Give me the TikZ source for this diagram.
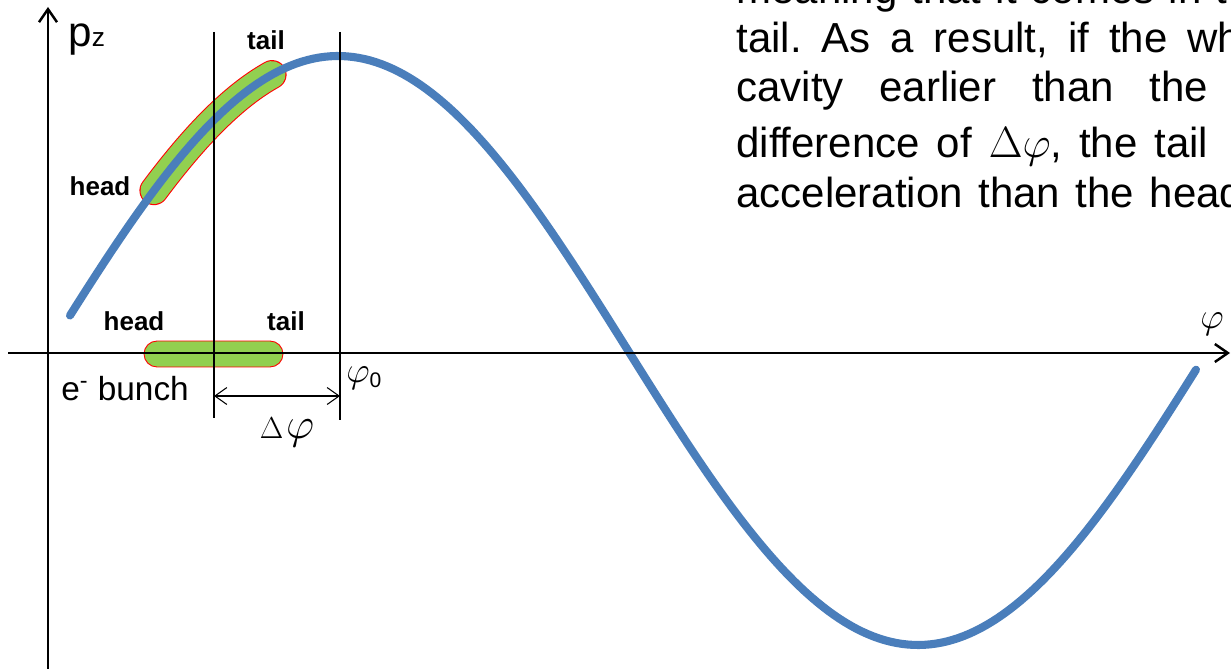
\documentclass[tikz,border=0pt]{standalone}
\usepackage{fontspec}
\setmainfont{Liberation Sans}
\usepackage{tikz}
\usetikzlibrary{positioning,arrows.meta}
\frenchspacing
\definecolor{cwave}{HTML}{4A7EBB}
\definecolor{cbunch}{HTML}{92D050}
\definecolor{cedge}{HTML}{FF0000}
\tikzset{
  axis/.style={line width=1.4pt, -{Straight Barb[length=0.26cm, width=0.36cm]}},
  marker/.style={line width=0.6pt},
  span/.style={line width=0.6pt,
               {Straight Barb[length=0.24cm, width=0.34cm]}-{Straight Barb[length=0.24cm, width=0.34cm]}},
  wave/.style={line width=4.6pt, draw=cwave, line cap=round},
  lbl/.style={font=\fontsize{14.8pt}{16pt}\selectfont\bfseries, inner sep=0pt, anchor=base},
  body/.style={font=\fontsize{23.9pt}{28pt}\selectfont, inner sep=0pt, anchor=base west},
  bunch/.style={rectangle, rounded corners=0.26cm, draw=cedge, fill=cbunch, line width=0.5pt,
                minimum width=2.78cm, minimum height=0.52cm, inner sep=0pt}
}

\begin{document}
\begin{tikzpicture}[x=0.02cm, y=-0.02cm]
\useasboundingbox (0,0) rectangle (1231,669);
\clip (0,0) rectangle (1231,669);
% bunch riding on the wave
\draw[line width=16.6pt, draw=cedge, line cap=round]
  plot[domain=154:272, samples=40] (\x, {350.5-294.5*sin((\x-48)*0.31034)});
\draw[line width=15.4pt, draw=cbunch, line cap=round]
  plot[domain=154:272, samples=40] (\x, {350.5-294.5*sin((\x-48)*0.31034)});
\draw[wave] plot[domain=70:1196, samples=200] (\x, {350.5-294.5*sin((\x-48)*0.31034)});
% bunch on the axis
\node[bunch] (bn) at (213.5,354) {};
% axes
\coordinate (xs) at (8,353);
\coordinate (xe) at (1230,353);
\coordinate (ys) at (48,669);
\coordinate (ye) at (48,7);
\draw[axis] (xs) -- (xe);
\draw[axis] (ys) -- (ye);
% phase markers
\coordinate (m1t) at (214,32);
\coordinate (m1b) at (214,418);
\coordinate (m2t) at (340,32);
\coordinate (m2b) at (340,420);
\draw[marker] (m1t) -- (m1b);
\draw[marker] (m2t) -- (m2b);
\coordinate (d1) at (214,396);
\coordinate (d2) at (340,396);
\draw[span] (d1) -- (d2);
% labels
\node[anchor=base west, inner sep=0pt, font=\fontsize{24pt}{26pt}\selectfont] (pz) at (68,47)
  {p{\fontsize{15pt}{15pt}\selectfont z}};
\node[lbl] (tl1) at (266,50) {tail};
\node[lbl] (hd1) at (100,195) {head};
\node[lbl] (hd2) at (134,330) {head};
\node[lbl] (tl2) at (286,330) {tail};
\node[anchor=base west, inner sep=0pt, font=\fontsize{19pt}{20pt}\selectfont] (eb) at (61,400)
  {e\textsuperscript{-} bunch};
\node[anchor=base west, inner sep=0pt, font=\fontsize{20pt}{22pt}\selectfont] (ph0) at (346,382)
  {$\varphi_{\mbox{\fontsize{12pt}{12pt}\selectfont 0}}$};
\node[anchor=base, inner sep=0pt] (dph) at (287,438)
  {{\fontsize{17pt}{17pt}\selectfont$\Delta$}\,{\fontsize{24pt}{24pt}\selectfont$\varphi$}};
\node[anchor=base, inner sep=0pt, font=\fontsize{22pt}{24pt}\selectfont] (phx) at (1212,328) {$\varphi$};
% text block
\node[body] (ln1) at (736,4) {\makebox[9.82cm][s]{meaning that it comes in t}};
\node[body] (ln2) at (736,53) {\makebox[10.1cm][s]{tail. As a result, if the wh}};
\node[body] (ln3) at (736,102) {\makebox[9.44cm][s]{cavity earlier than the}};
\node[body] (ln4) at (736,157) {\makebox[9.44cm][s]{difference of $\Delta\varphi$, the tail}};
\node[body] (ln5) at (736,207) {\makebox[10.14cm][s]{acceleration than the head}};
\end{tikzpicture}
\end{document}
